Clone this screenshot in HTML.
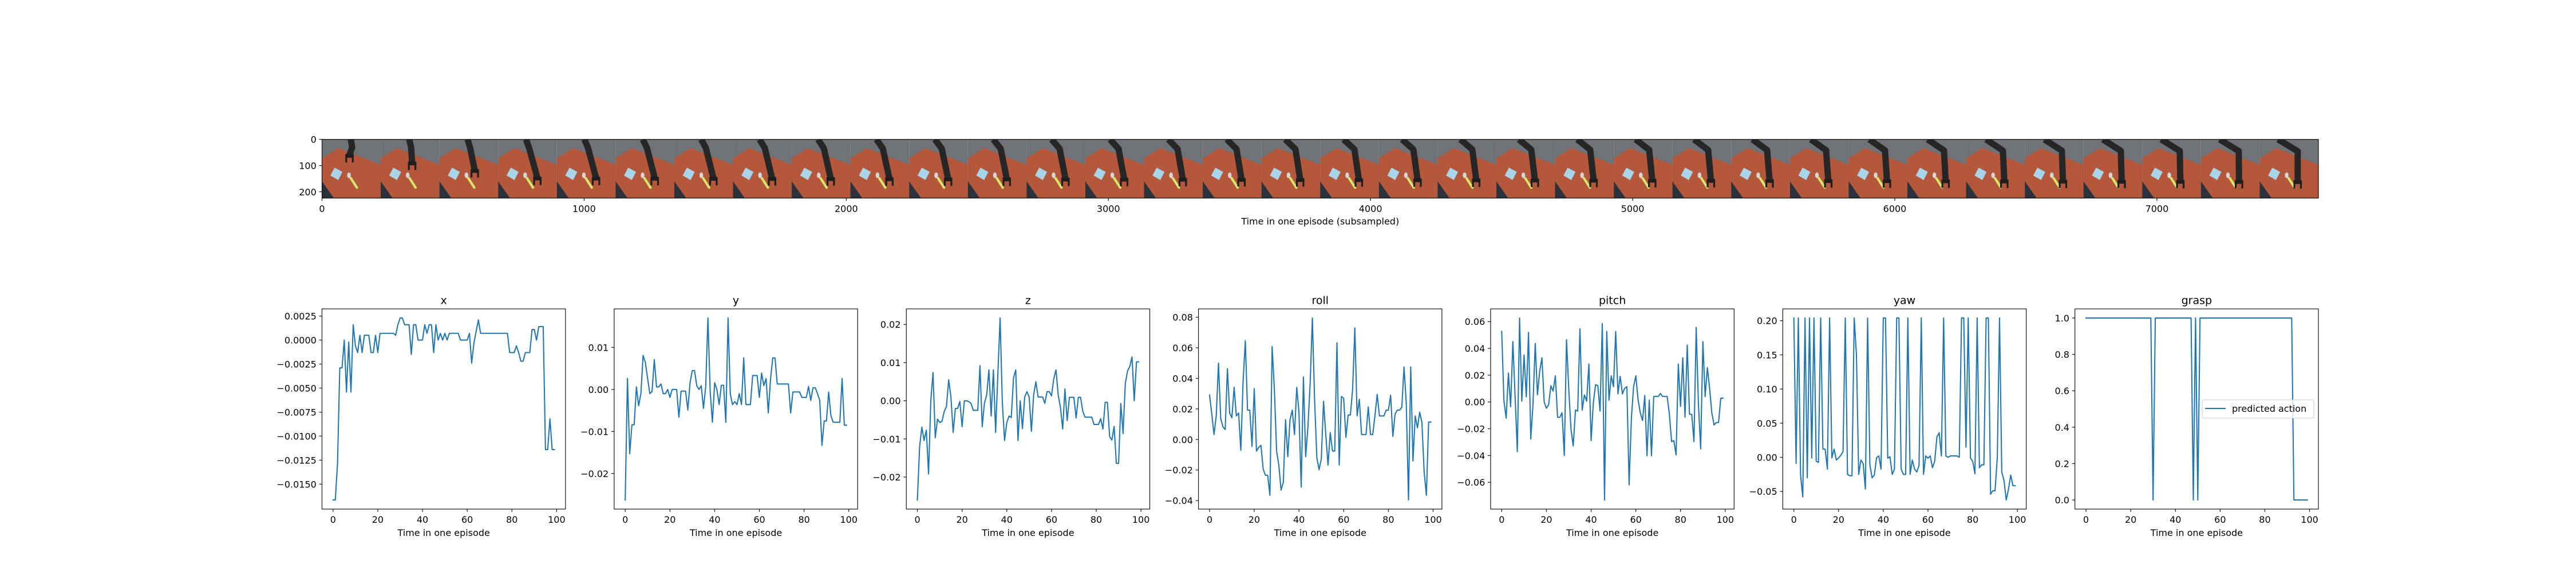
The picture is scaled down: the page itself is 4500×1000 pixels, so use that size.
<!DOCTYPE html>
<html><head><meta charset="utf-8"><style>
html,body{margin:0;padding:0;background:#fff;}
svg{display:block;font-family:"DejaVu Sans","Liberation Sans",sans-serif;}
</style></head><body>
<svg id="fig" width="4500" height="1000" viewBox="0 0 4500 1000" xmlns="http://www.w3.org/2000/svg"></svg>
<script>
const NS="http://www.w3.org/2000/svg";
const steps=[...Array(100).keys()];
const seriesX=[-0.01665,-0.01665,-0.0128,-0.0029,-0.0029,0.0,-0.0054,-0.0002,-0.0054,0.0016,-0.0006,-0.0013,0.0005,-0.0013,0.0005,0.0005,0.0005,-0.0013,-0.0013,0.0005,-0.0013,0.0007,0.0007,0.0007,0.0007,0.0007,0.0007,0.0007,0.0005,0.0016,0.0023,0.0023,0.0016,0.0016,0.0016,-0.0015,0.0016,0.0016,0.0,0.0,0.0,0.0016,0.0007,0.0016,0.0016,-0.0013,0.0016,0.0,0.0007,0.0,0.0007,0.0,0.0007,0.0007,0.0007,0.0007,0.0007,0.0,0.0,0.0,0.0,0.0007,-0.0024,-0.0003,0.0009,0.0021,0.0007,0.0007,0.0007,0.0007,0.0007,0.0007,0.0007,0.0007,0.0007,0.0007,0.0007,0.0007,0.0007,-0.0013,-0.0013,-0.0013,-0.0006,-0.0013,-0.0022,-0.0022,-0.0013,-0.0013,-0.0013,0.0011,0.0011,0.0,0.0014,0.0014,0.0014,-0.0114,-0.0114,-0.0082,-0.0114,-0.0114];
const seriesY=[-0.0263,0.0026,-0.0153,-0.0084,-0.0084,0.0006,-0.0039,-0.001,0.0081,0.0064,0.0027,-0.001,-0.0005,0.0071,0.0006,0.0006,0.0013,-0.001,-0.001,0.0,-0.0019,0,0,0,-0.0066,-0.0004,-0.0004,-0.0004,-0.0049,0.0016,0.0045,0.0045,0.0009,0,0.0009,-0.0045,0.0007,0.017,-0.0005,-0.0078,0.0016,0,-0.0036,0.001,0.001,-0.0078,0.017,-0.0011,-0.0036,-0.0029,-0.0036,-0.001,-0.0036,0.0075,-0.0036,-0.0036,-0.0036,0.0033,0.0033,0.0033,-0.0019,0.0039,0.0009,0.0026,-0.0056,0.0025,0.0075,0.0075,0.0013,0.0013,0.0013,0.0013,0.0013,0.0013,-0.0056,-0.0006,-0.0006,-0.0006,-0.0006,-0.0019,-0.0019,-0.0019,0.0007,-0.0026,0.0004,0.0004,-0.001,-0.0026,-0.0133,-0.0075,-0.0075,-0.0006,-0.0062,-0.0078,-0.0078,-0.0078,-0.0078,0.0026,-0.0085,-0.0085];
const seriesZ=[-0.026,-0.012,-0.0069,-0.0104,-0.0077,-0.0192,0,0.0074,-0.0097,-0.0048,-0.0057,-0.0054,-0.0028,-0.0015,0.0055,0.001,-0.0083,-0.002,-0.002,-0.0002,-0.0068,0,0,-0.0002,-0.0007,-0.0025,-0.0025,-0.0025,0.0092,-0.0068,-0.0006,0.0015,0.0081,-0.004,0.0081,-0.0083,0.007,0.0217,-0.0005,-0.0104,-0.0057,-0.004,-0.0044,0.006,0.0081,-0.0104,0,-0.0073,0.001,0.0024,0.001,-0.008,0.0015,0.005,0.001,0.001,0.001,-0.0007,0.0024,0.0024,0.0013,0.0058,0.0081,0.0015,-0.0018,-0.0074,0.0031,-0.0052,0.0009,0.0009,0.0009,-0.0045,0.0009,0.0009,-0.0028,-0.0043,-0.0043,-0.0043,-0.0043,-0.0062,-0.0062,-0.0062,-0.0047,-0.0074,-0.0004,-0.0004,-0.0094,-0.0103,-0.0067,-0.0164,-0.0164,-0.0007,-0.0086,0.0045,0.0078,0.009,0.0115,0,0.0102,0.0102];
const seriesRoll=[0.0291,0.0167,0.0032,0.0154,0.05,0.0136,0.0083,0.0065,0.0463,0.0173,0.0142,0.0341,0.0154,0.0173,-0.007,0.0378,0.0646,0.0192,0.0192,-0.0045,0.0333,-0.0076,-0.0051,-0.0039,-0.0194,-0.0234,-0.0234,-0.0365,0.0608,0.0328,-0.0076,-0.0169,-0.0331,-0.0281,0.0129,-0.0113,0.0129,0.0192,0.0032,0.0341,0.0179,-0.0312,0.0409,-0.0113,0.008,0.0366,0.0795,0.0254,-0.0119,-0.0198,-0.0126,0.025,0.003,-0.0167,0.0045,-0.0076,-0.0076,0.0633,-0.0167,0.0281,0.027,0.0014,0.016,0.016,0.0328,0.073,0.0154,0.0263,0.0032,0.0032,0.0032,0.0213,0.0032,0.0032,0.0158,0.0295,0.0154,0.0154,0.0154,0.0192,0.0192,0.0289,0.002,0.0167,0.0192,0.0192,0.021,0.0475,0.0235,-0.0396,0.0475,-0.0141,0.0154,0.0076,0.0179,0.0111,-0.0213,-0.0365,0.0114,0.0114];
const seriesPitch=[0.0527,0.001,-0.0121,0.0216,-0.0036,0.0451,0.004,-0.0371,0.0627,0.0006,0.0351,0.0038,0.0519,-0.0277,-0.0018,0.0437,0.0053,0.023,0.033,0,-0.0047,-0.0021,0.0121,0.0081,0.0195,-0.0115,-0.0115,-0.008,-0.04,0.0465,0.0095,-0.0203,-0.0328,-0.0061,-0.0068,0.0546,-0.0061,0.0053,0.0006,0.0283,-0.0289,-0.0004,0.0129,0.0122,-0.0068,0.0586,-0.0732,0.0526,0.0013,0.0195,0.0114,0.0526,0.006,0.0191,0.006,0.0102,0.0114,-0.062,-0.0125,0.0114,0.0195,0.0017,-0.0082,-0.0139,0.0048,-0.0402,0.0014,-0.0402,0.0041,0.0041,0.0041,0.0063,0.0041,0.0041,0.0041,-0.009,-0.0296,-0.0289,-0.0395,0.0283,-0.0033,0.033,-0.0114,0.0425,-0.0092,-0.0092,-0.0296,0.0557,-0.0018,-0.035,0.0451,0.0041,0.0256,0.0102,-0.0082,-0.0172,-0.0154,-0.0154,0.0028,0.0028];
const seriesYaw=[0.204,-0.009,0.204,-0.026,-0.058,0.204,-0.03,0.204,-0.001,0.204,-0.0056,-0.0075,0.204,0.012,0.012,-0.0173,0.204,-0.001,0.012,-0.004,-0.001,0.003,0.0084,0.204,-0.025,-0.027,-0.027,0.204,0.15,-0.025,-0.004,-0.009,-0.0466,0.204,-0.011,-0.03,-0.026,-0.0006,0.002,-0.0173,0.204,0.204,-0.0014,0.0008,-0.025,-0.0173,0.204,0.204,-0.0173,-0.025,-0.025,0.204,-0.025,-0.004,-0.0173,-0.0215,-0.012,0.204,-0.025,0.002,-0.0014,0.002,-0.0153,-0.0056,0.03,0.036,0.002,0.204,0.002,0,0.002,0.002,0.002,0.002,0,0.204,0.204,0.0148,0.204,-0.001,-0.006,-0.024,0.204,-0.0153,-0.011,-0.011,0.204,0.204,-0.054,-0.049,-0.049,-0.0006,0.204,-0.0215,-0.034,-0.0625,-0.0466,-0.026,-0.0416,-0.0416];
const seriesGrasp=[1,1,1,1,1,1,1,1,1,1,1,1,1,1,1,1,1,1,1,1,1,1,1,1,1,1,1,1,1,1,0,1,1,1,1,1,1,1,1,1,1,1,1,1,1,1,1,1,0,1,0,1,1,1,1,1,1,1,1,1,1,1,1,1,1,1,1,1,1,1,1,1,1,1,1,1,1,1,1,1,1,1,1,1,1,1,1,1,1,1,1,1,1,0,0,0,0,0,0,0];
const titles=["x","y","z","roll","pitch","yaw","grasp"];
const xTicks=[0,20,40,60,80,100];
const xTickLabels=["0","20","40","60","80","100"];
const yTicksX=[-0.015,-0.0125,-0.01,-0.0075,-0.005,-0.0025,0,0.0025];
const yLabelsX=["\u22120.0150","\u22120.0125","\u22120.0100","\u22120.0075","\u22120.0050","\u22120.0025","0.0000","0.0025"];
const yTicksY=[-0.02,-0.01,0,0.01];
const yLabelsY=["\u22120.02","\u22120.01","0.00","0.01"];
const yTicksZ=[-0.02,-0.01,0,0.01,0.02];
const yLabelsZ=["\u22120.02","\u22120.01","0.00","0.01","0.02"];
const yTicksRoll=[-0.04,-0.02,0,0.02,0.04,0.06,0.08];
const yLabelsRoll=["\u22120.04","\u22120.02","0.00","0.02","0.04","0.06","0.08"];
const yTicksPitch=[-0.06,-0.04,-0.02,0,0.02,0.04,0.06];
const yLabelsPitch=["\u22120.06","\u22120.04","\u22120.02","0.00","0.02","0.04","0.06"];
const yTicksYaw=[-0.05,0,0.05,0.1,0.15,0.2];
const yLabelsYaw=["\u22120.05","0.00","0.05","0.10","0.15","0.20"];
const yTicksGrasp=[0,0.2,0.4,0.6,0.8,1.0];
const yLabelsGrasp=["0.0","0.2","0.4","0.6","0.8","1.0"];
const imgXTicks=[0,1000,2000,3000,4000,5000,6000,7000];
const imgXTickLabels=["0","1000","2000","3000","4000","5000","6000","7000"];
const imgYTicks=[0,100,200];
const imgYTickLabels=["0","100","200"];
const frameCount=34;

const svg=document.getElementById('fig');
function mk(tag,attrs,parent){const e=document.createElementNS(NS,tag);for(const k in attrs)e.setAttribute(k,attrs[k]);(parent||svg).appendChild(e);return e;}
function txt(s,attrs,parent){const e=mk('text',attrs,parent);e.textContent=s;return e;}
const FS=16, TFS=19;

/* ---------- top image strip ---------- */
const IL=562.5, IW=3487.5, IUW=frameCount*224, IH=IW*224/IUW, IT=295-IH/2;
const isx=v=>IL+v/IUW*IW, isy=v=>IT+v/224*IH;
const strip=mk('g',{});


const defs=mk('defs',{});
const cp=mk('clipPath',{id:'stripclip'},defs);
mk('rect',{x:IL,y:IT,width:IW,height:IH},cp);
const fg=mk('g',{'clip-path':'url(#stripclip)'},strip);
for(let f=0;f<frameCount;f++){
  const g=mk('g',{transform:`translate(${isx(f*224)},${IT}) scale(${IW/IUW},${IH/224})`},fg);
  
  
  mk('rect',{x:0,y:0,width:224,height:224,fill:'#6f7378'},g);
  mk('polygon',{points:'62,33 224,97 224,224 30,224 0,175 0,72',fill:'#b5573a'},g);
  mk('polygon',{points:'0,160 45,224 0,224',fill:'#2c323b'},g);
  mk('polygon',{points:'48,108 78,124 62,155 32,138',fill:'#a9d5ea'},g);
  mk('line',{x1:110,y1:148,x2:133,y2:184,stroke:'#d5e86b','stroke-width':9,'stroke-linecap':'round'},g);
  mk('ellipse',{cx:103,cy:137,rx:7,ry:11,fill:'#d6d6d6'},g);
  let t=Math.min(f/3,1), late=f/(frameCount-1);
  const gx=105+45*t-5*late, gy=60+85*t+15*late;
  const ex=115+30*late, ey=30+15*late;
  mk('polyline',{points:`${70+40*(1-late)},0 ${ex},${ey} ${gx},${gy}`,fill:'none',stroke:'#262626','stroke-width':24,'stroke-linejoin':'round'},g);
  mk('rect',{x:gx-16,y:gy-4,width:32,height:14,fill:'#1e1e1e'},g);
  mk('rect',{x:gx-16,y:gy+8,width:7,height:20,fill:'#1e1e1e'},g);
  mk('rect',{x:gx+9,y:gy+8,width:7,height:20,fill:'#1e1e1e'},g);
}
mk('rect',{x:IL,y:IT,width:IW,height:IH,fill:'none',stroke:'#000','stroke-width':1.1},strip);
imgXTicks.forEach((v,i)=>{
  const x=isx(v);
  mk('line',{x1:x,y1:IT+IH,x2:x,y2:IT+IH+4.9,stroke:'#000','stroke-width':1.1},strip);
  const t=txt(imgXTickLabels[i],{x:x,y:IT+IH+24,'font-size':FS,'text-anchor':'middle'},strip);
  
  
});
imgYTicks.forEach((v,i)=>{
  const y=isy(v);
  mk('line',{x1:IL,y1:y,x2:IL-4.9,y2:y,stroke:'#000','stroke-width':1.1},strip);
  const t=txt(imgYTickLabels[i],{x:IL-9.7,y:y+6,'font-size':FS,'text-anchor':'end'},strip);
  
  
});
const sxl=txt('Time in one episode (subsampled)',{x:IL+IW/2,y:IT+IH+46,'font-size':FS,'text-anchor':'middle'});



/* ---------- action subplots ---------- */
const allSeries=[seriesX,seriesY,seriesZ,seriesRoll,seriesPitch,seriesYaw,seriesGrasp];
const allTicks=[yTicksX,yTicksY,yTicksZ,yTicksRoll,yTicksPitch,yTicksYaw,yTicksGrasp];
const allLabels=[yLabelsX,yLabelsY,yLabelsZ,yLabelsRoll,yLabelsPitch,yLabelsYaw,yLabelsGrasp];
const W=3487.5/8.2, GAP=W*0.2, T=540, B=890, H=B-T;
for(let p=0;p<7;p++){
  const L=562.5+p*(W+GAP);
  const data=allSeries[p];
  const g=mk('g',{});
  
  
  const xmin=-4.95,xmax=103.95;
  let mn=Math.min(...data),mx=Math.max(...data),r=mx-mn;
  const ymin=mn-0.05*r,ymax=mx+0.05*r;
  const sx=v=>L+(v-xmin)/(xmax-xmin)*W;
  const sy=v=>B-(v-ymin)/(ymax-ymin)*H;
  const pts=steps.map((s,i)=>sx(s).toFixed(2)+','+sy(data[i]).toFixed(2)).join(' ');
  const line=mk('polyline',{points:pts,fill:'none',stroke:'#1f77b4','stroke-width':2.08,'stroke-linejoin':'round','stroke-linecap':'square'},g);
  
  
  mk('rect',{x:L,y:T,width:W,height:H,fill:'none',stroke:'#000','stroke-width':1.1},g);
  xTicks.forEach((v,i)=>{
    const x=sx(v);
    mk('line',{x1:x,y1:B,x2:x,y2:B+4.9,stroke:'#000','stroke-width':1.1},g);
    const t=txt(xTickLabels[i],{x:x,y:B+24,'font-size':FS,'text-anchor':'middle'},g);
    
    
  });
  allTicks[p].forEach((v,i)=>{
    const y=sy(v);
    mk('line',{x1:L,y1:y,x2:L-4.9,y2:y,stroke:'#000','stroke-width':1.1},g);
    const t=txt(allLabels[p][i],{x:L-9.7,y:y+6,'font-size':FS,'text-anchor':'end'},g);
    
    
  });
  const tt=txt(titles[p],{x:L+W/2,y:T-8.5,'font-size':TFS,'text-anchor':'middle'},g);
  
  
  const xl=txt('Time in one episode',{x:L+W/2,y:B+47,'font-size':FS,'text-anchor':'middle'},g);
  
  
  if(p===6){
    const lg=mk('g',{},g);
    
    
    mk('rect',{x:3847,y:699,width:195,height:32,rx:3,fill:'#fff','fill-opacity':0.8,stroke:'#cccccc','stroke-width':1.1},lg);
    mk('line',{x1:3852,y1:714,x2:3888,y2:714,stroke:'#1f77b4','stroke-width':2.08},lg);
    const lt=txt('predicted action',{x:3899,y:720,'font-size':FS},lg);
    
    
  }
}
</script>
</body></html>
